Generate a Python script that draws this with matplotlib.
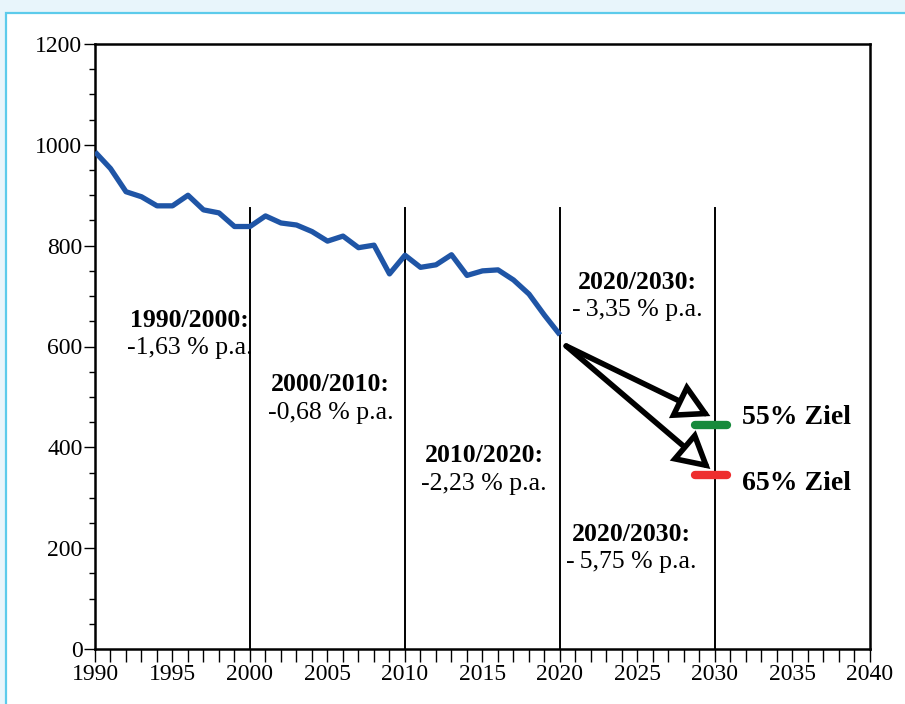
import matplotlib
matplotlib.use("Agg")
import matplotlib.pyplot as plt
from matplotlib.patches import Rectangle
from matplotlib.ticker import MultipleLocator

plt.rcParams['font.family'] = ['Liberation Serif', 'DejaVu Serif']

# ---- data ----
years = list(range(1990, 2021))
emissions = [986, 953, 907, 897, 879, 879, 900, 871, 865, 838, 838,
             859, 845, 841, 828, 809, 819, 796, 801, 744, 781,
             757, 762, 782, 741, 750, 752, 732, 704, 662, 623]
decade_lines = [2000, 2010, 2020, 2030]
period_labels = ["1990/2000:", "2000/2010:", "2010/2020:", "2020/2030:", "2020/2030:"]
period_rates = ["-1,63 % p.a.", "-0,68 % p.a.", "-2,23 % p.a.", "-\u20093,35 % p.a.", "-\u20095,75 % p.a."]
target_labels = ["55% Ziel", "65% Ziel"]
target_values = [444, 345]
target_colors = ["#178a3c", "#ee2e2e"]
target_year = 2030

# ---- figure ----
W, H = 905, 704
fig = plt.figure(figsize=(W / 100, H / 100), dpi=100, facecolor='#e8f5fb')
panel = Rectangle((6 / W, -0.1), 1.2, 1.1 - 13 / H,
                  transform=fig.transFigure, fc='white',
                  ec='#5ccbeb', lw=1.6, zorder=-10)
fig.add_artist(panel)

ax = fig.add_axes([95 / W, 1 - 649 / H, (870 - 95) / W, (649 - 44) / H])
ax.set_zorder(1)
ax.set_facecolor('white')
ax.set_xlim(1990, 2040)
ax.set_ylim(0, 1200)

for s in ax.spines.values():
    s.set_linewidth(1.8)
    s.set_color('black')

ax.xaxis.set_major_locator(MultipleLocator(5))
ax.xaxis.set_minor_locator(MultipleLocator(1))
ax.yaxis.set_major_locator(MultipleLocator(200))
ax.yaxis.set_minor_locator(MultipleLocator(50))
ax.tick_params(axis='x', which='both', direction='out', length=9, width=1.0,
               labelsize=17, pad=2)
ax.tick_params(axis='y', which='major', direction='out', length=8, width=1.0,
               labelsize=17, pad=1)
ax.tick_params(axis='y', which='minor', direction='out', length=4, width=1.0)

# decade separator lines
for d in decade_lines:
    ax.plot([d, d], [0, 875], color='black', lw=1.4, zorder=2)

# emissions line
ax.plot(years, emissions, color='#1f55a6', lw=3.8, solid_joinstyle='round',
        solid_capstyle='butt', zorder=3)

# period annotations
label_pos = [(1996.1, 652, 597), (2005.2, 524, 468), (2015.1, 383, 327),
             (2025.0, 726, 672), (2024.6, 228, 173)]
for (lab, rate, (x, y1, y2)) in zip(period_labels, period_rates, label_pos):
    ax.text(x, y1, lab, ha='center', va='center', fontsize=18.5,
            fontweight='bold', zorder=4)
    ax.text(x, y2, rate, ha='center', va='center', fontsize=18.5, zorder=4)

# target bars
for val, col in zip(target_values, target_colors):
    ax.plot([target_year - 1.3, target_year + 0.8], [val, val], color=col,
            lw=6, solid_capstyle='round', zorder=4)

# arrows from 2020 value to targets
start = (years[-1] + 0.4, emissions[-1] - 22)
for val, yoff in zip(target_values, [18, 12]):
    ax.annotate('', xy=(target_year - 0.3, val + yoff), xytext=start,
                arrowprops=dict(arrowstyle='-|>,head_length=1.0,head_width=0.55',
                                lw=4, fc='white', ec='black',
                                mutation_scale=20, shrinkA=0, shrinkB=0,
                                joinstyle='miter'),
                zorder=5)

# target labels
for lab, ypos in zip(target_labels, [460, 329]):
    ax.text(2031.75, ypos, lab, ha='left', va='center', fontsize=20,
            fontweight='bold', zorder=4)

fig.savefig('out.png', dpi=100, facecolor=fig.get_facecolor())
